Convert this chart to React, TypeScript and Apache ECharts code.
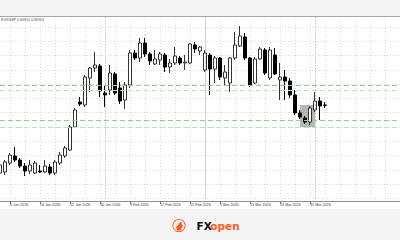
import React, { useEffect, useRef } from 'react';
import * as echarts from 'echarts';

const dates = [
  '2 Jan 2026', '5 Jan 2026', '6 Jan 2026', '7 Jan 2026', '8 Jan 2026', '9 Jan 2026',
  '12 Jan 2026', '13 Jan 2026', '14 Jan 2026', '15 Jan 2026', '16 Jan 2026',
  '19 Jan 2026', '20 Jan 2026', '21 Jan 2026', '22 Jan 2026', '23 Jan 2026',
  '26 Jan 2026', '27 Jan 2026', '28 Jan 2026', '29 Jan 2026', '30 Jan 2026',
  '2 Feb 2026', '3 Feb 2026', '4 Feb 2026', '5 Feb 2026', '6 Feb 2026',
  '9 Feb 2026', '10 Feb 2026', '11 Feb 2026', '12 Feb 2026', '13 Feb 2026',
  '16 Feb 2026', '17 Feb 2026', '18 Feb 2026', '19 Feb 2026', '20 Feb 2026',
  '23 Feb 2026', '24 Feb 2026', '25 Feb 2026', '26 Feb 2026', '27 Feb 2026',
  '2 Mar 2026', '3 Mar 2026', '4 Mar 2026', '5 Mar 2026', '6 Mar 2026',
  '9 Mar 2026', '10 Mar 2026', '11 Mar 2026', '12 Mar 2026', '13 Mar 2026',
  '16 Mar 2026', '17 Mar 2026', '18 Mar 2026', '19 Mar 2026', '20 Mar 2026',
  '23 Mar 2026', '24 Mar 2026', '25 Mar 2026', '26 Mar 2026', '27 Mar 2026',
  '30 Mar 2026', '31 Mar 2026', '1 Apr 2026', '2 Apr 2026', '3 Apr 2026',
];
const lastLabelDate = '31 Mar 2026';

const open = [
  0.86378, 0.86385, 0.86448, 0.86497, 0.86469, 0.86427,
  0.86392, 0.86378, 0.86392, 0.86385, 0.86420,
  0.86378, 0.86448, 0.86497, 0.86539, 0.86700,
  0.86875, 0.86854, 0.87043, 0.87113, 0.87127,
  0.86938, 0.86959, 0.87071, 0.86973, 0.86889,
  0.86994, 0.87218, 0.87183, 0.87288, 0.87211,
  0.87141, 0.87169, 0.87204, 0.87120, 0.87148,
  0.87183, 0.87148, 0.87148, 0.87274, 0.87232,
  0.87099, 0.87204, 0.87106, 0.87183, 0.87043,
  0.87008, 0.87183, 0.87267, 0.87330, 0.87183,
  0.87008, 0.87176, 0.87239, 0.87043, 0.87204,
  0.87029, 0.87050, 0.87022, 0.86924, 0.86798,
  0.86763, 0.86735, 0.86819, 0.86882, 0.86854,
];
const high = [
  0.86469, 0.86469, 0.86518, 0.86560, 0.86483, 0.86448,
  0.86469, 0.86462, 0.86434, 0.86469, 0.86441,
  0.86469, 0.86525, 0.86567, 0.86714, 0.86833,
  0.86910, 0.87064, 0.87120, 0.87225, 0.87141,
  0.86994, 0.87134, 0.87085, 0.87015, 0.87015,
  0.87239, 0.87239, 0.87323, 0.87323, 0.87225,
  0.87239, 0.87225, 0.87218, 0.87176, 0.87260,
  0.87197, 0.87204, 0.87288, 0.87295, 0.87267,
  0.87239, 0.87218, 0.87197, 0.87190, 0.87134,
  0.87190, 0.87365, 0.87407, 0.87358, 0.87190,
  0.87190, 0.87260, 0.87253, 0.87260, 0.87253,
  0.87148, 0.87099, 0.87043, 0.86959, 0.86819,
  0.86777, 0.86847, 0.86945, 0.86910, 0.86875,
];
const low = [
  0.86350, 0.86364, 0.86434, 0.86455, 0.86413, 0.86357,
  0.86371, 0.86371, 0.86378, 0.86378, 0.86364,
  0.86364, 0.86434, 0.86483, 0.86532, 0.86693,
  0.86847, 0.86840, 0.86945, 0.87085, 0.86910,
  0.86840, 0.86924, 0.86924, 0.86861, 0.86826,
  0.86973, 0.87169, 0.87155, 0.87190, 0.87134,
  0.87134, 0.87134, 0.87085, 0.87078, 0.87134,
  0.87134, 0.87099, 0.87141, 0.87218, 0.87204,
  0.87085, 0.86924, 0.87008, 0.87029, 0.86994,
  0.86945, 0.87169, 0.87260, 0.87169, 0.86980,
  0.87001, 0.87169, 0.87064, 0.87029, 0.87064,
  0.86889, 0.86889, 0.86903, 0.86784, 0.86756,
  0.86721, 0.86714, 0.86805, 0.86749, 0.86833,
];
const close = [
  0.86434, 0.86455, 0.86504, 0.86469, 0.86427, 0.86392,
  0.86434, 0.86448, 0.86385, 0.86427, 0.86378,
  0.86455, 0.86504, 0.86553, 0.86700, 0.86819,
  0.86861, 0.87050, 0.87113, 0.87134, 0.86952,
  0.86924, 0.87078, 0.86938, 0.86882, 0.86994,
  0.87218, 0.87183, 0.87288, 0.87211, 0.87162,
  0.87176, 0.87211, 0.87120, 0.87148, 0.87197,
  0.87148, 0.87155, 0.87281, 0.87246, 0.87260,
  0.87218, 0.87106, 0.87183, 0.87050, 0.87085,
  0.87183, 0.87274, 0.87337, 0.87183, 0.86994,
  0.87176, 0.87246, 0.87078, 0.87239, 0.87071,
  0.87050, 0.87022, 0.86924, 0.86798, 0.86770,
  0.86735, 0.86833, 0.86882, 0.86847, 0.86852,
];

const levelsStrong = [0.86994, 0.86749];
const levelsLight = [0.86959, 0.867];
const monthStarts = ['2 Feb 2026', '2 Mar 2026', '1 Apr 2026'];
const zoneFrom = '27 Mar 2026';
const zoneTo = '1 Apr 2026';
const zoneTop = 0.86854;
const zoneBottom = 0.867;
const headerText = 'EURGBP 0.86852 0.86904';
const brandA = 'FX';
const brandB = 'open';

const FUTURE_SLOTS = 15;

export default function App() {
  const ref = useRef<HTMLDivElement>(null);
  useEffect(() => {
    document.body.style.margin = '0';
    if (!ref.current) return;
    const chart = echarts.init(ref.current, undefined, { renderer: 'svg' });

    echarts.graphic.registerShape(
      'fxdragon',
      echarts.graphic.extendPath(
        'M3 9 C2 7 2.5 5 4.5 4.5 C4.5 3 6 1.5 8 2 C7 2.8 7 3.6 7.8 4.2 C8.8 5 8.6 6.6 7.4 7.2 C6.4 7.7 6.8 8.6 7.6 9 C6 9.8 4.2 9.8 3 9 Z',
        {}
      ) as any
    );

    const futures = Array.from({ length: FUTURE_SLOTS }, (_, k) => 'future-' + k);
    const cats = [...dates, ...futures];
    const lastLabelIdx = cats.indexOf(lastLabelDate);
    const candleData = dates.map((_, i) => [open[i], close[i], low[i], high[i]]);

    const labelInterval = (idx: number) => (idx - 2) % 6 === 0 && idx <= lastLabelIdx;
    const dotted = [1, 2];

    const markLineData: any[] = [];
    levelsStrong.forEach((v) =>
      markLineData.push({ yAxis: v, lineStyle: { color: '#8ccf8c', type: [5, 3], width: 1 } })
    );
    levelsLight.forEach((v) =>
      markLineData.push({ yAxis: v, lineStyle: { color: '#bfe3bf', type: [5, 3], width: 1 } })
    );
    monthStarts.forEach((d) =>
      markLineData.push({ xAxis: d, lineStyle: { color: '#a0a0a0', type: dotted, width: 1 } })
    );

    chart.setOption({
      animation: false,
      title: {
        text: headerText,
        left: 1,
        top: 17.5,
        padding: 0,
        textStyle: { fontSize: 3.6, color: '#555', fontWeight: 'normal', fontFamily: 'Liberation Sans' },
      },
      grid: { left: 0, right: 0, top: 16, bottom: 240 - 198.43 },
      xAxis: [
        {
          type: 'category',
          data: cats,
          boundaryGap: false,
          offset: 2.57,
          axisLine: { show: true, lineStyle: { color: '#8c8c8c', width: 1 } },
          axisTick: { show: true, length: 3, interval: labelInterval, lineStyle: { color: '#777' } },
          axisLabel: {
            interval: labelInterval,
            align: 'left',
            fontSize: 3.7,
            color: '#3a3a3a',
            margin: 1.5,
            fontFamily: 'Liberation Sans',
          },
          splitLine: {
            show: true,
            interval: (idx: number) => (idx - 2) % 3 === 0,
            lineStyle: { color: '#d8d8d8', type: dotted, width: 1 },
          },
        },
        {
          type: 'category',
          data: cats,
          boundaryGap: false,
          position: 'top',
          axisLine: { show: true, lineStyle: { color: '#a6a6a6', width: 1 } },
          axisTick: { show: false },
          axisLabel: { show: false },
          splitLine: { show: false },
        },
      ],
      yAxis: {
        type: 'value',
        min: 0.862,
        max: 0.87477,
        interval: 0.001,
        axisLine: { show: false },
        axisTick: { show: false },
        axisLabel: { show: false },
        splitLine: { show: true, lineStyle: { color: '#d8d8d8', type: dotted, width: 1 } },
      },
      series: [
        {
          type: 'candlestick',
          xAxisIndex: 0,
          barWidth: 3,
          data: candleData,
          itemStyle: {
            color: '#ffffff',
            color0: '#000000',
            borderColor: '#333333',
            borderColor0: '#000000',
            borderWidth: 1,
          },
          markLine: {
            silent: true,
            symbol: 'none',
            precision: 6,
            label: { show: false },
            data: markLineData,
          },
          markArea: {
            silent: true,
            itemStyle: { color: 'rgba(110,110,110,0.5)' },
            data: [[{ xAxis: zoneFrom, yAxis: zoneTop }, { xAxis: zoneTo, yAxis: zoneBottom }]],
          },
        },
      ],
      graphic: [
        {
          type: 'ring',
          shape: { cx: 179, cy: 225.5, r: 6.6, r0: 5.7 },
          style: { fill: '#ff5a1f' },
        },
        {
          type: 'fxdragon',
          x: 173.5,
          y: 220,
          scaleX: 1.1,
          scaleY: 1.1,
          style: { fill: '#ff5a1f' },
        },
        {
          type: 'text',
          x: 196.5,
          y: 225.5,
          style: {
            text: brandA,
            font: 'bold 10.5px "DejaVu Sans"',
            fill: '#141414',
            verticalAlign: 'middle',
          },
        },
        {
          type: 'text',
          x: 210.3,
          y: 225.5,
          style: {
            text: brandB,
            font: 'bold 10.5px "DejaVu Sans"',
            fill: '#ff5a1f',
            verticalAlign: 'middle',
          },
        },
      ],
    });
    return () => chart.dispose();
  }, []);

  return (
    <div
      ref={ref}
      style={{
        width: 400,
        height: 240,
        background:
          'linear-gradient(to bottom, #f4f4f4 0px, #f4f4f4 16px, #ffffff 16px, #ffffff 209px, #f4f4f4 209px, #f4f4f4 240px)',
      }}
    />
  );
}
